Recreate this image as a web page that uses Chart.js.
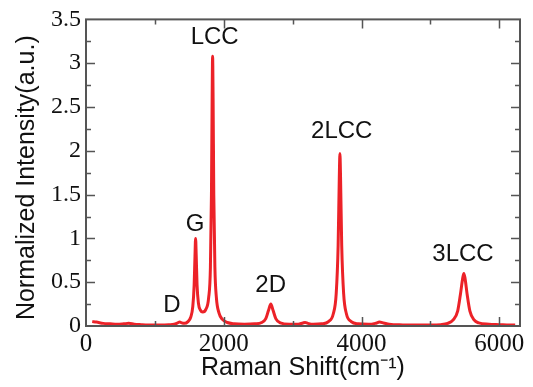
<!DOCTYPE html>
<html>
<head>
<meta charset="utf-8">
<script src="https://cdn.jsdelivr.net/npm/chart.js@4"></script>
<style>
  html, body { margin: 0; padding: 0; background: #fff; }
  #wrap { width: 533px; height: 387px; }
</style>
</head>
<body>
<div id="wrap"><canvas id="ramanChart" width="533" height="387"></canvas></div>
<script>
// Raman spectrum
var ramanShift = [90, 150, 250, 350, 450, 550, 620, 700, 800, 900, 1000, 1100, 1200, 1280, 1330, 1360, 1390, 1430,
    1480, 1520, 1550, 1570, 1582, 1591, 1600, 1612, 1632, 1662, 1695, 1740, 1780, 1806, 1821, 1831, 1838, 1845, 1855,
    1871, 1893, 1930, 1980, 2050, 2150, 2300, 2450, 2550, 2610, 2650, 2683, 2715, 2755, 2820, 2950, 3080, 3150, 3180,
    3220, 3300, 3420, 3520, 3590, 3632, 3660, 3677, 3686, 3695, 3712, 3740, 3780, 3850, 3950, 4100, 4200, 4260, 4320,
    4400, 4600, 4800, 5000, 5150, 5250, 5330, 5395, 5435, 5467, 5485, 5503, 5533, 5573, 5633, 5700, 5850, 6000, 6150, 6230];
var intensity = [0.05, 0.045, 0.03, 0.025, 0.02, 0.025, 0.03, 0.02, 0.015, 0.012, 0.012, 0.012, 0.015, 0.02, 0.035, 0.045, 0.035, 0.03,
    0.05, 0.1, 0.22, 0.47, 0.8, 1.0, 0.8, 0.47, 0.26, 0.18, 0.16, 0.19, 0.32, 0.67, 1.5, 2.6, 3.08, 2.6, 1.5,
    0.67, 0.32, 0.15, 0.075, 0.04, 0.025, 0.02, 0.025, 0.04, 0.085, 0.18, 0.25, 0.18, 0.085, 0.035, 0.02, 0.02, 0.035, 0.04,
    0.03, 0.02, 0.025, 0.05, 0.14, 0.37, 0.92, 1.7, 1.97, 1.7, 0.92, 0.37, 0.14, 0.05, 0.025, 0.02, 0.03, 0.045, 0.035,
    0.02, 0.012, 0.01, 0.01, 0.015, 0.03, 0.07, 0.17, 0.36, 0.54, 0.6, 0.54, 0.36, 0.17, 0.07, 0.035, 0.02, 0.015, 0.01, 0.01];

// peak names and where they sit (data units)
var peakNames = ['D', 'G', 'LCC', '2D', '2LCC', '3LCC'];
var peakLabelX = [1248, 1582, 1868, 2681, 3712, 5472];
var peakLabelY = [0.24, 1.16, 3.29, 0.46, 2.22, 0.82];

var xTicks = [0, 2000, 4000, 6000];
var yTicks = [0, 0.5, 1, 1.5, 2, 2.5, 3, 3.5];
var yTitle = 'Normalized Intensity(a.u.)';

var axisColor = '#555';

var points = ramanShift.map(function (x, i) { return { x: x, y: intensity[i] }; });

// frame, inward ticks, y title and peak names
var framePlugin = {
    id: 'frame',
    afterDraw: function (chart) {
        var ctx = chart.ctx;
        var a = chart.chartArea;
        var xs = chart.scales.x, ys = chart.scales.y;
        ctx.save();
        ctx.strokeStyle = axisColor;
        ctx.lineWidth = 2;
        ctx.strokeRect(a.left, a.top, a.right - a.left, a.bottom - a.top);
        ctx.lineWidth = 1.5;
        var v, p, len;
        for (v = 1000; v < xs.max; v += 1000) {
            p = Math.round(xs.getPixelForValue(v)) + 0.5;
            len = (v % 2000 === 0) ? 9 : 5;
            ctx.beginPath();
            ctx.moveTo(p, a.bottom); ctx.lineTo(p, a.bottom - len);
            ctx.moveTo(p, a.top); ctx.lineTo(p, a.top + len);
            ctx.stroke();
        }
        for (v = 0.25; v < ys.max; v += 0.25) {
            p = Math.round(ys.getPixelForValue(v)) + 0.5;
            len = (Math.abs(v * 2 - Math.round(v * 2)) < 1e-6) ? 9 : 5;
            ctx.beginPath();
            ctx.moveTo(a.left, p); ctx.lineTo(a.left + len, p);
            ctx.moveTo(a.right, p); ctx.lineTo(a.right - len, p);
            ctx.stroke();
        }
        ctx.fillStyle = '#111';
        ctx.font = '24px "Liberation Sans", Arial, sans-serif';
        ctx.textAlign = 'center';
        ctx.textBaseline = 'middle';
        for (var i = 0; i < peakNames.length; i++) {
            ctx.fillText(peakNames[i], xs.getPixelForValue(peakLabelX[i]), ys.getPixelForValue(peakLabelY[i]));
        }
        // y title
        ctx.font = '25px "Liberation Sans", Arial, sans-serif';
        ctx.translate(27, (a.top + a.bottom) / 2 + 5);
        ctx.rotate(-Math.PI / 2);
        ctx.fillText(yTitle, 0, 0);
        ctx.restore();
    }
};

new Chart(document.getElementById('ramanChart'), {
    type: 'scatter',
    data: {
        datasets: [{
            data: points,
            showLine: true,
            borderColor: 'rgb(236, 34, 40)',
            borderWidth: 3,
            pointRadius: 0,
            cubicInterpolationMode: 'monotone',
            fill: false
        }]
    },
    options: {
        responsive: false,
        animation: false,
        layout: { padding: { top: 19, right: 13, left: 0, bottom: 0 } },
        plugins: { legend: { display: false }, tooltip: { enabled: false } },
        scales: {
            x: {
                type: 'linear',
                min: 0,
                max: 6300,
                afterFit: function (s) { s.height = 61; },
                afterBuildTicks: function (s) { s.ticks = xTicks.map(function (v) { return { value: v }; }); },
                grid: { display: false, drawTicks: false },
                border: { display: false },
                ticks: {
                    padding: 3,
                    color: '#111',
                    font: { family: '"Liberation Serif", "Times New Roman", serif', size: 25 },
                    maxRotation: 0,
                    callback: function (v) { return String(v); }
                },
                title: {
                    display: true,
                    text: 'Raman Shift(cm\u207B\u00B9)',
                    color: '#111',
                    font: { family: '"Liberation Sans", Arial, sans-serif', size: 25 },
                    padding: { top: 0, bottom: 4 }
                }
            },
            y: {
                min: 0,
                max: 3.5,
                afterFit: function (s) { s.width = 86; },
                afterBuildTicks: function (s) { s.ticks = yTicks.map(function (v) { return { value: v }; }); },
                grid: { display: false, drawTicks: false },
                border: { display: false },
                ticks: {
                    padding: 5,
                    color: '#111',
                    font: { family: '"Liberation Serif", "Times New Roman", serif', size: 24 },
                    callback: function (v) { return String(v); }
                },
                title: { display: false }
            }
        }
    },
    plugins: [framePlugin]
});
</script>
</body>
</html>
